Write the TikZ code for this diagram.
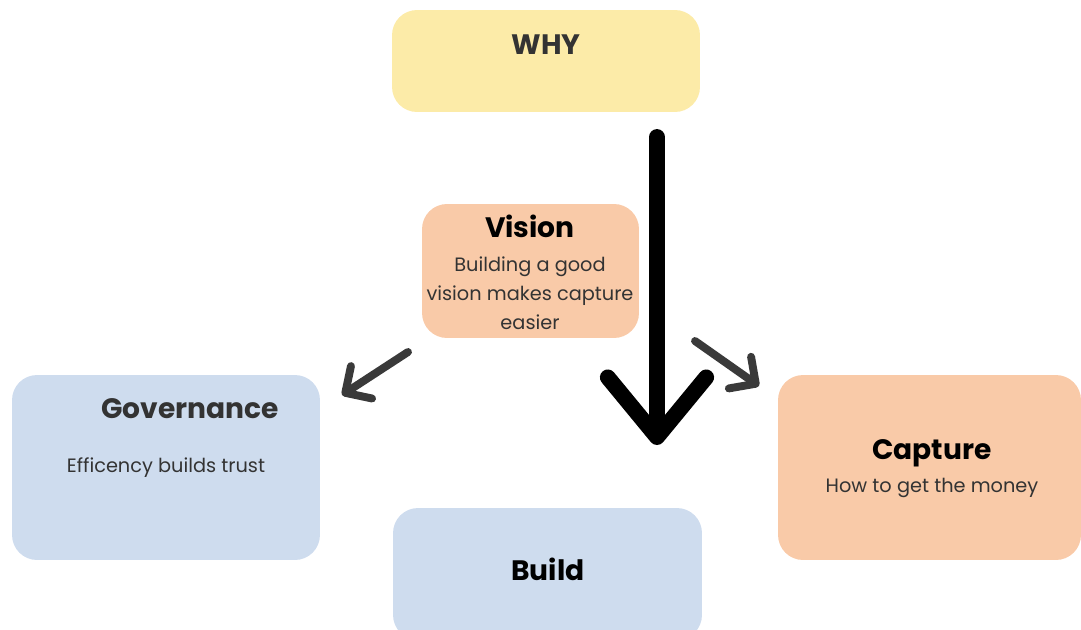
\documentclass[tikz,border=0pt]{standalone}
\usepackage{fontspec}
\setmainfont{Poppins}
\usetikzlibrary{arrows.meta}

\definecolor{whyyellow}{HTML}{FCEBA8}
\definecolor{peach}{HTML}{F9CAA8}
\definecolor{paleblue}{HTML}{CEDCEE}
\definecolor{inkgray}{HTML}{333333}
\definecolor{arrowgray}{HTML}{3A3A3A}

\begin{document}
\begin{tikzpicture}[x=0.02cm, y=-0.02cm,
    box/.style={draw=none, rounded corners=0.5cm, inner sep=0pt},
    title/.style={font=\fontsize{16}{19}\selectfont\bfseries},
    body/.style={font=\fontsize{11}{16.5}\selectfont, text=inkgray, align=center},
    bigarrow/.style={line width=9pt, line cap=round,
        -{Straight Barb[round, length=34pt, width=56pt]}},
    smallarrow/.style={arrowgray, line width=4.5pt, line cap=round,
        -{Straight Barb[round, length=11pt, width=22pt]}}]

    \useasboundingbox (0,0) rectangle (1081,629);

    % boxes
    \node[box, fill=whyyellow, minimum width=6.16cm, minimum height=2.04cm] (why) at (546,61) {};
    \node[box, fill=peach, minimum width=4.34cm, minimum height=2.68cm] (vision) at (530.5,271) {};
    \node[box, fill=paleblue, minimum width=6.16cm, minimum height=3.7cm] (gov) at (166,467.5) {};
    \node[box, fill=peach, minimum width=6.06cm, minimum height=3.7cm] (capture) at (929.5,467.5) {};
    \node[box, fill=paleblue, minimum width=6.18cm, minimum height=2.64cm] (build) at (547.5,574) {};

    % texts
    \node[title, text=inkgray] (whyt) at (546,45) {WHY};
    \node[title] (visiont) at (530,226) {Vision};
    \node[body] (visionb) at (530,293) {Building a good\\vision makes capture\\easier};
    \node[title, text=inkgray] (govt) at (190,409) {Governance};
    \node[body] (govb) at (166,468) {Efficency builds trust};
    \node[title] (capturet) at (932,453) {Capture};
    \node[body] (captureb) at (932,488) {How to get the money};
    \node[title] (buildt) at (548,569) {Build};

    % arrows
    \coordinate (down0) at (657,137);
    \coordinate (down1) at (657,445);
    \draw[bigarrow] (down0) -- (down1);

    \coordinate (left0) at (408,352);
    \coordinate (left1) at (342,395);
    \draw[smallarrow] (left0) -- (left1);

    \coordinate (right0) at (695,341);
    \coordinate (right1) at (759,386);
    \draw[smallarrow] (right0) -- (right1);

\end{tikzpicture}
\end{document}
